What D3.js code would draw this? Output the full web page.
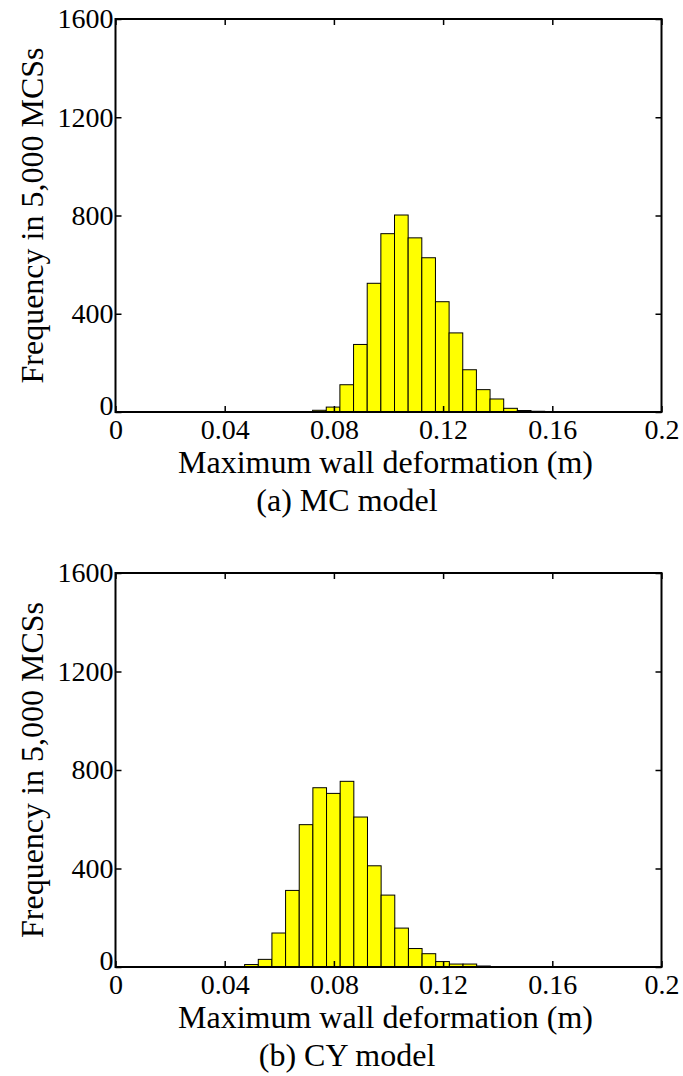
<!DOCTYPE html>
<html lang="en">
<head>
<meta charset="UTF-8">
<title>Maximum wall deformation histograms</title>
<script src="https://d3js.org/d3.v7.min.js"></script>
<style>
  body { margin: 0; background: #fff; }
  svg { display: block; }
  .lbl { font-family: "Liberation Serif", "Times New Roman", serif; font-size: 32px; fill: #000; }
</style>
</head>
<body>
<svg id="chart" width="683" height="1076"></svg>
<script>
// histogram data (bin width 0.005 m)
const binWidth = 0.005;
const mcStart = 0.0722;
const mcCounts = [7, 20, 111, 275, 524, 726, 802, 709, 628, 449, 322, 172, 91, 53, 15, 6, 3];
const cyStart = 0.0473;
const cyCounts = [10, 31, 138, 311, 578, 728, 705, 754, 609, 411, 292, 158, 75, 54, 22, 12, 12, 4];

const xTicks = [0, 0.04, 0.08, 0.12, 0.16, 0.2];
const xTickLabels = ["0", "0.04", "0.08", "0.12", "0.16", "0.2"];
const yTicks = [0, 400, 800, 1200, 1600];

const panels = [
  { start: mcStart, counts: mcCounts, caption: "(a) MC model", top: 19, bottom: 412 },
  { start: cyStart, counts: cyCounts, caption: "(b) CY model", top: 573, bottom: 967 }
];

const left = 115.5, right = 661.5;
const serif = '"Liberation Serif", "Times New Roman", serif';
const svg = d3.select("#chart");

const x = d3.scaleLinear().domain([0, 0.2]).range([left, right]);

panels.forEach(p => {
  const y = d3.scaleLinear().domain([0, 1600]).range([p.bottom, p.top]);
  const g = svg.append("g");

  const bins = p.counts.map((c, i) => ({ x0: p.start + i * binWidth, x1: p.start + (i + 1) * binWidth, n: c }));

  g.selectAll("rect.bar")
    .data(bins)
    .join("rect")
    .attr("class", "bar")
    .attr("x", d => x(d.x0))
    .attr("y", d => y(d.n))
    .attr("width", d => x(d.x1) - x(d.x0))
    .attr("height", d => y(0) - y(d.n))
    .attr("fill", "#ffff00")
    .attr("stroke", "#000")
    .attr("stroke-width", 1);

  // axes, ticks inward, mirrored on top and right
  const tl = 6;
  const fmt = (d, i) => xTickLabels[i];
  g.append("g")
    .attr("transform", `translate(0,${p.bottom})`)
    .call(d3.axisBottom(x).tickValues(xTicks).tickFormat(fmt).tickSize(-tl).tickPadding(7))
    .call(a => a.select(".domain").remove());
  g.append("g")
    .attr("transform", `translate(0,${p.top})`)
    .call(d3.axisTop(x).tickValues(xTicks).tickFormat("").tickSize(-tl))
    .call(a => a.select(".domain").remove());
  const yAx = g.append("g")
    .attr("transform", `translate(${left},0)`)
    .call(d3.axisLeft(y).tickValues(yTicks).tickFormat(d3.format("d")).tickSize(-tl).tickPadding(2))
    .call(a => a.select(".domain").remove());
  // the 0 on y sits a little higher so it clears the x-axis 0
  yAx.selectAll(".tick text").filter(d => d === 0).attr("dy", "0.1em");
  g.append("g")
    .attr("transform", `translate(${right},0)`)
    .call(d3.axisRight(y).tickValues(yTicks).tickFormat("").tickSize(-tl))
    .call(a => a.select(".domain").remove());
  g.selectAll(".tick line").attr("stroke", "#000").attr("stroke-width", 1.5);
  g.selectAll(".tick text")
    .attr("font-family", serif)
    .attr("font-size", 28)
    .attr("fill", "#000");

  g.append("rect")
    .attr("x", left).attr("y", p.top)
    .attr("width", right - left).attr("height", p.bottom - p.top)
    .attr("fill", "none").attr("stroke", "#000").attr("stroke-width", 2);

  g.append("text")
    .attr("class", "lbl")
    .attr("x", (left + right) / 2 - 3)
    .attr("y", p.bottom + 61)
    .attr("text-anchor", "middle")
    .text("Maximum wall deformation (m)");

  g.append("text")
    .attr("class", "lbl")
    .attr("x", 347)
    .attr("y", p.bottom + 99)
    .attr("text-anchor", "middle")
    .text(p.caption);

  g.append("text")
    .attr("class", "lbl")
    .attr("transform", `translate(43,${(p.top + p.bottom) / 2}) rotate(-90)`)
    .attr("text-anchor", "middle")
    .text("Frequency in 5,000 MCSs");
});
</script>
</body>
</html>
